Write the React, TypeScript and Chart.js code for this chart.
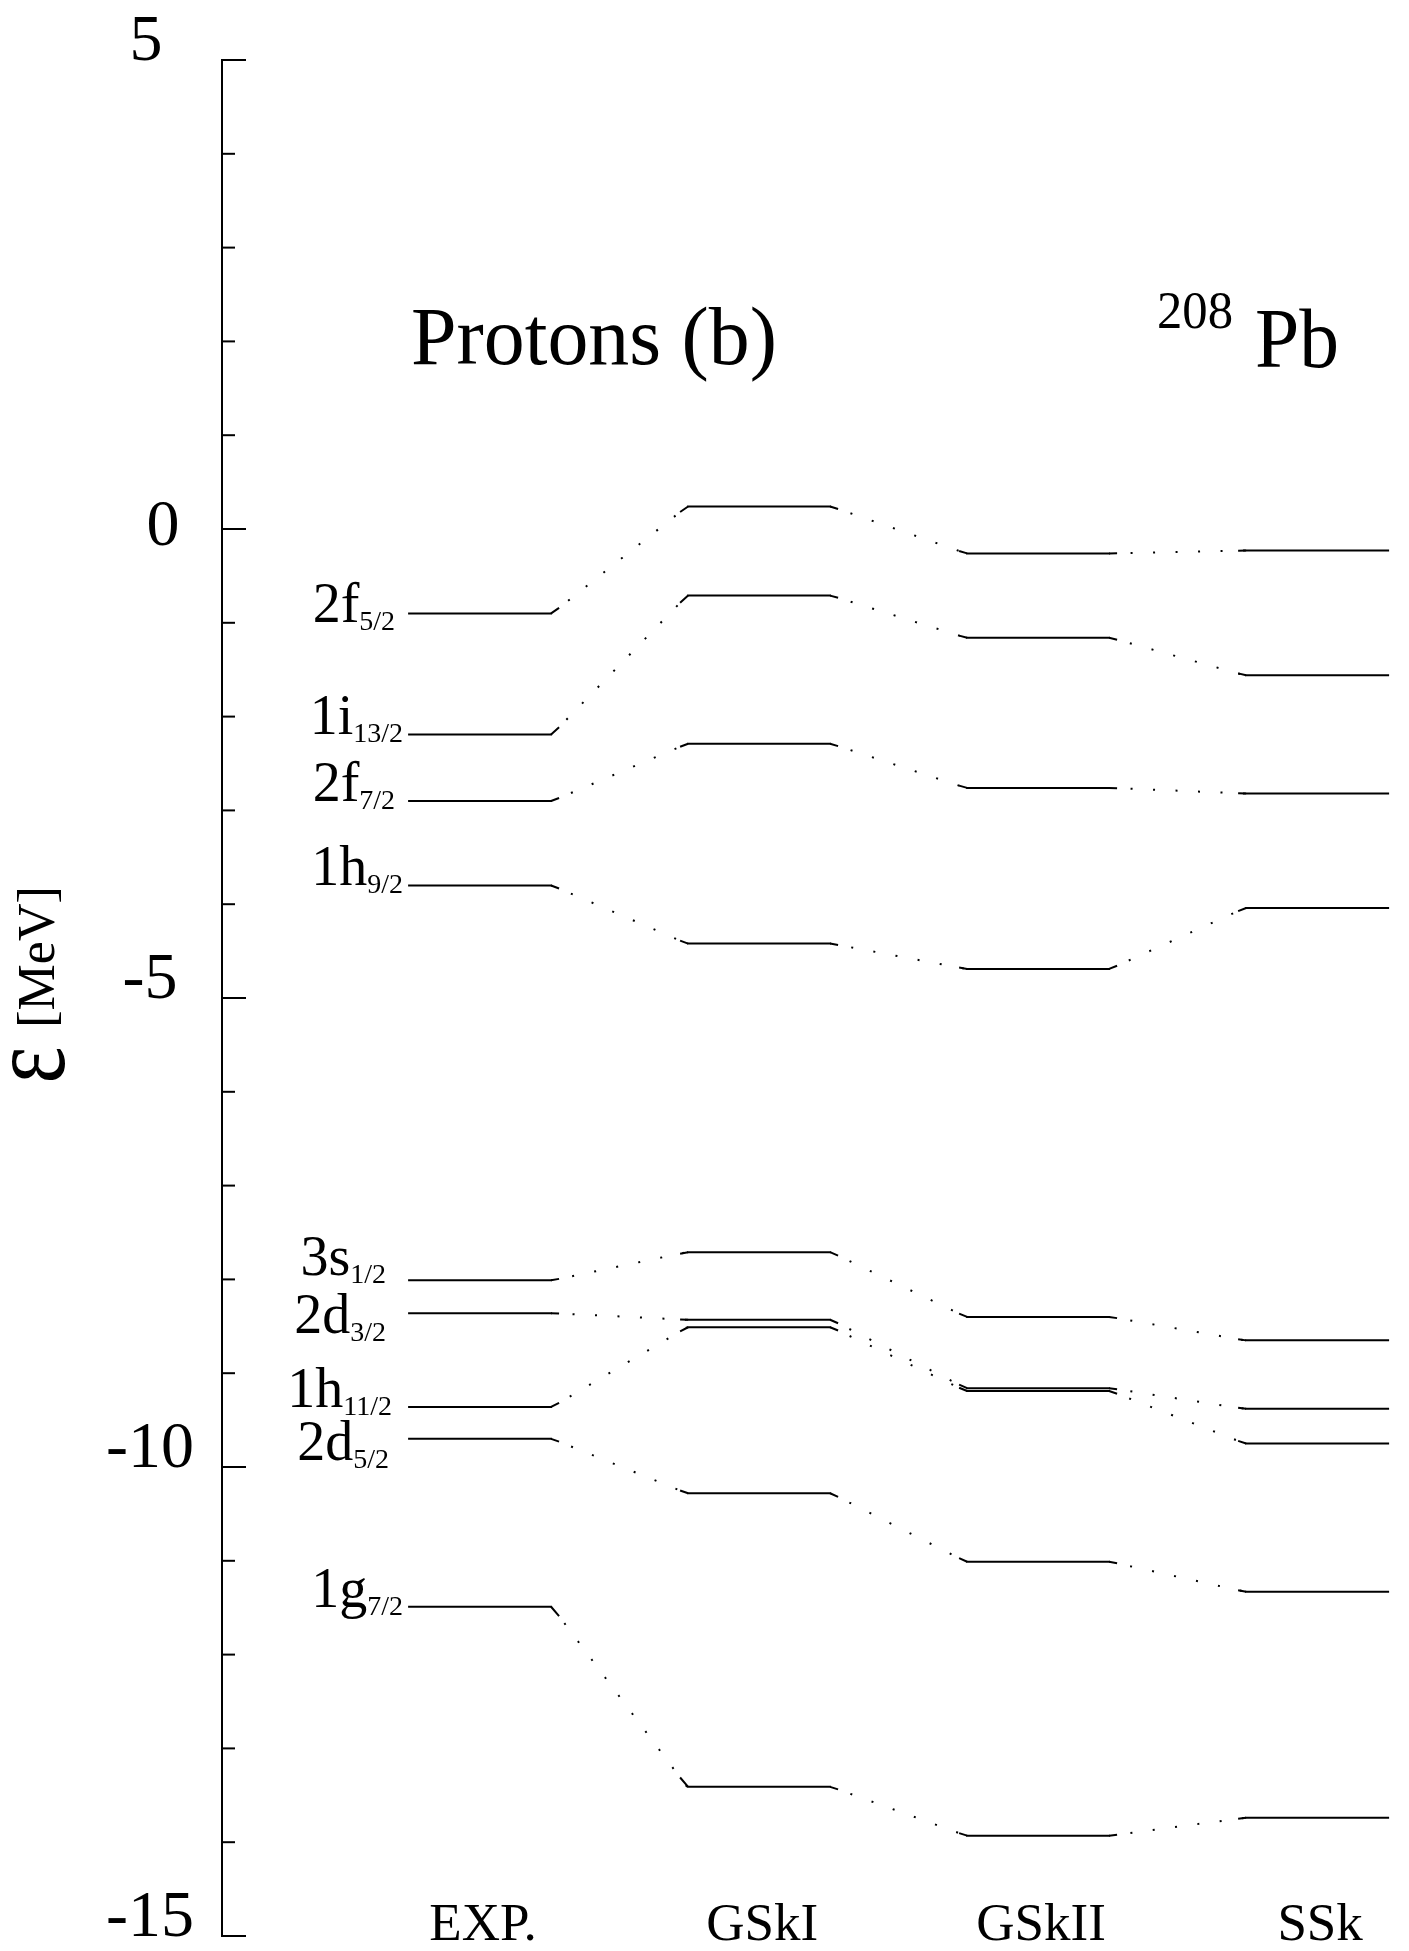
import React, { useEffect, useRef } from 'react';
import { Chart, registerables } from 'chart.js';

Chart.register(...registerables);

// ---- data ----
const methods = ['EXP.', 'GSkI', 'GSkII', 'SSk'];
const orbitals = ['2f', '1i', '2f', '1h', '3s', '2d', '1h', '2d', '1g'];
const orbitalJ = ['5/2', '13/2', '7/2', '9/2', '1/2', '3/2', '11/2', '5/2', '7/2'];
const expLevels = [-0.9, -2.19, -2.9, -3.8, -8.01, -8.36, -9.36, -9.7, -11.49];
const gsk1Levels = [0.24, -0.71, -2.29, -4.42, -7.71, -8.43, -8.51, -10.28, -13.41];
const gsk2Levels = [-0.26, -1.16, -2.76, -4.69, -8.4, -9.16, -9.19, -11.01, -13.93];
const sskLevels = [-0.23, -1.56, -2.82, -4.04, -8.65, -9.38, -9.75, -11.33, -13.74];
const yTickLabels = [5, 0, -5, -10, -15];
const titleText = 'Protons (b)';
const nucleusMass = '208';
const nucleusSymbol = 'Pb';
const axisTitleSymbol = 'ε';
const axisTitleUnit = '[MeV]';

// ---- layout / style (not data) ----
const HALF = 0.258;
const KINK = 7;
const SERIF = "'Liberation Serif', 'DejaVu Serif', serif";
const labelNudgeY = [9, 0, 0, 0, -5, 20, 0, 21, 0];
const labelNudgeX = [-2, 6, -2, 6, -11, -11, -5, -8, 6];

const allLevels = [expLevels, gsk1Levels, gsk2Levels, sskLevels];

function fitText(ctx: CanvasRenderingContext2D, text: string, x: number, y: number, width?: number) {
  const w = ctx.measureText(text).width;
  if (!width) {
    ctx.fillText(text, x, y);
    return w;
  }
  ctx.save();
  ctx.translate(x, y);
  ctx.scale(width / w, 1);
  ctx.fillText(text, 0, 0);
  ctx.restore();
  return width;
}

const overlay = {
  id: 'levelOverlay',
  afterDatasetsDraw(chart: any) {
    // short solid bends at the ends of each level, following the connector
    const ctx: CanvasRenderingContext2D = chart.ctx;
    const xs = chart.scales.x;
    const ys = chart.scales.y;
    ctx.save();
    ctx.strokeStyle = '#000';
    ctx.lineWidth = 2;
    ctx.lineCap = 'butt';
    orbitals.forEach((_, k) => {
      for (let i = 0; i < methods.length - 1; i++) {
        const x1 = xs.getPixelForValue(i + 1 + HALF);
        const y1 = ys.getPixelForValue(allLevels[i][k]);
        const x2 = xs.getPixelForValue(i + 2 - HALF);
        const y2 = ys.getPixelForValue(allLevels[i + 1][k]);
        const s = (y2 - y1) / (x2 - x1);
        ctx.beginPath();
        ctx.moveTo(x1 - 1, y1);
        ctx.lineTo(x1 + KINK, y1 + s * KINK);
        ctx.moveTo(x2 + 1, y2);
        ctx.lineTo(x2 - KINK, y2 - s * KINK);
        ctx.stroke();
      }
    });
    ctx.restore();
  },
  afterDraw(chart: any) {
    const ctx: CanvasRenderingContext2D = chart.ctx;
    const xs = chart.scales.x;
    const ys = chart.scales.y;
    const axisX = ys.right;
    ctx.save();
    ctx.fillStyle = '#000';
    ctx.strokeStyle = '#000';
    ctx.lineWidth = 2;
    ctx.textAlign = 'left';
    ctx.textBaseline = 'alphabetic';

    // tick marks (inside) and labels
    ys.ticks.forEach((t: any) => {
      const y = ys.getPixelForValue(t.value);
      const major = yTickLabels.includes(t.value);
      ctx.beginPath();
      ctx.moveTo(axisX, y);
      ctx.lineTo(axisX + (major ? 24 : 13), y);
      ctx.stroke();
      if (major) {
        ctx.font = `66px ${SERIF}`;
        ctx.textAlign = 'center';
        const label = String(t.value);
        const dy = t.value === 0 ? 16 : 0;
        const cx = t.value === 0 ? 163 : label.length === 1 ? 146 : 150;
        ctx.fillText(label, cx, y + dy);
        ctx.textAlign = 'left';
      }
    });

    // level labels
    const xRight = xs.getPixelForValue(1 - HALF) - 11;
    orbitals.forEach((name, k) => {
      const y = ys.getPixelForValue(expLevels[k]) + labelNudgeY[k];
      const xr = xRight + labelNudgeX[k];
      ctx.font = `28px ${SERIF}`;
      const w2 = ctx.measureText(orbitalJ[k]).width;
      ctx.font = `56px ${SERIF}`;
      const w1 = ctx.measureText(name).width;
      ctx.fillText(name, xr - w2 - w1, y);
      ctx.font = `28px ${SERIF}`;
      ctx.fillText(orbitalJ[k], xr - w2, y + 8);
    });

    // category labels
    ctx.font = `53px ${SERIF}`;
    ctx.textAlign = 'center';
    methods.forEach((m, i) => {
      ctx.fillText(m, xs.getPixelForValue(i + 1) + 3, ys.bottom + 4);
    });

    // titles
    ctx.textAlign = 'left';
    ctx.font = `83px ${SERIF}`;
    fitText(ctx, titleText, 411, 364, 366);
    ctx.font = `52px ${SERIF}`;
    fitText(ctx, nucleusMass, 1157, 328, 76);
    ctx.font = `85px ${SERIF}`;
    fitText(ctx, nucleusSymbol, 1255, 367, 84);

    // y axis title (rotated)
    ctx.save();
    ctx.translate(54, 957);
    ctx.rotate(-Math.PI / 2);
    ctx.textAlign = 'center';
    ctx.font = `52px ${SERIF}`;
    ctx.fillText(axisTitleUnit, 0, 0);
    ctx.restore();

    ctx.save();
    ctx.translate(64, 1065);
    ctx.rotate(-Math.PI / 2);
    ctx.scale(0.8, 1);
    ctx.textAlign = 'center';
    ctx.font = `110px ${SERIF}`;
    ctx.fillText(axisTitleSymbol, 0, 0);
    ctx.restore();

    ctx.restore();
  },
};

export default function App() {
  const canvasRef = useRef<HTMLCanvasElement | null>(null);

  useEffect(() => {
    document.body.style.margin = '0';
    const canvas = canvasRef.current;
    if (!canvas) return;

    const datasets = orbitals.map((name, k) => ({
      label: `${name}${orbitalJ[k]}`,
      data: methods.flatMap((_, i) => [
        { x: i + 1 - HALF, y: allLevels[i][k] },
        { x: i + 1 + HALF, y: allLevels[i][k] },
      ]),
      borderColor: '#000',
      borderWidth: 2,
      pointRadius: 0,
      pointHoverRadius: 0,
      fill: false,
      tension: 0,
      borderDash: [],
      segment: {
        borderDash: (c: any) => (c.p0DataIndex % 2 === 1 ? [2, 20.5] : []),
        borderDashOffset: (c: any) => (c.p0DataIndex % 2 === 1 ? 2 : 0),
      },
    }));

    const chart = new Chart(canvas, {
      type: 'line',
      data: { datasets },
      options: {
        animation: false,
        responsive: true,
        maintainAspectRatio: false,
        layout: { padding: { top: 60, bottom: 15, left: 0, right: 4 } },
        plugins: { legend: { display: false }, tooltip: { enabled: false } },
        events: [],
        scales: {
          x: { type: 'linear', min: 0.075, max: 4.315, display: false },
          y: {
            type: 'linear',
            min: -15,
            max: 5,
            ticks: { display: false, stepSize: 1 },
            grid: { display: false, drawTicks: false },
            border: { display: true, color: '#000', width: 2 },
            afterFit: (scale: any) => {
              scale.width = 222;
              scale.paddingTop = 0;
              scale.paddingBottom = 0;
            },
          },
        },
      },
      plugins: [overlay],
    } as any);

    return () => chart.destroy();
  }, []);

  return (
    <div style={{ position: 'absolute', left: 0, top: 0, width: 1409, height: 1951, background: '#fff' }}>
      <canvas ref={canvasRef} />
    </div>
  );
}
